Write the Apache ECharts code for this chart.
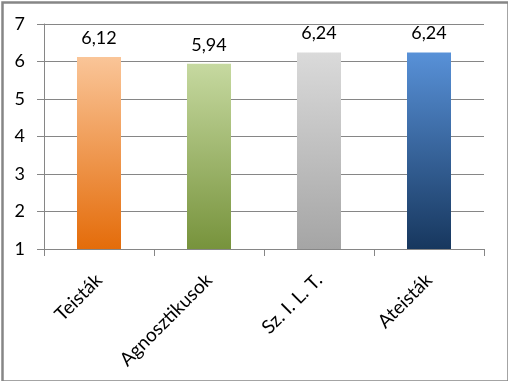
<!DOCTYPE html>
<html>
<head>
<meta charset="utf-8">
<script src="https://cdn.jsdelivr.net/npm/echarts@6/dist/echarts.min.js"></script>
<style>
html,body{margin:0;padding:0;background:#fff;}
#c{width:508px;height:381px;}
</style>
</head>
<body>
<div id="c"></div>
<script>
const categories = ['Teisták', 'Agnosztikusok', 'Sz. I. L. T.', 'Ateisták'];
const values = [6.12, 5.94, 6.24, 6.24];
const valueLabels = ['6,12', '5,94', '6,24', '6,24'];
const yTicks = [1, 2, 3, 4, 5, 6, 7];
const gradients = [
  ['#FAC598', '#E46C0A'],
  ['#C6D9A0', '#77933C'],
  ['#DADADA', '#A5A5A5'],
  ['#5891D8', '#17375E']
];

const font = 'Lato, "Open Sans", sans-serif';
const chart = echarts.init(document.getElementById('c'), null, {renderer: 'canvas'});
chart.setOption({
  animation: false,
  graphic: [{
    type: 'rect', left: 0, top: 0,
    shape: {x: 1, y: 1, width: 506, height: 379},
    style: {fill: 'none', stroke: '#868686', lineWidth: 2.5}
  }],
  grid: {left: 44, right: 24, top: 24, bottom: 132},
  xAxis: {
    type: 'category',
    data: categories,
    axisLine: {lineStyle: {color: '#868686', width: 1}},
    axisTick: {show: true, length: 7, lineStyle: {color: '#868686'}},
    axisLabel: {rotate: 45, margin: 28, color: '#000', fontSize: 19, fontFamily: font}
  },
  yAxis: {
    type: 'value',
    min: yTicks[0], max: yTicks[yTicks.length - 1], interval: 1,
    axisLine: {show: true, lineStyle: {color: '#868686', width: 1}},
    axisTick: {show: true, length: 7, lineStyle: {color: '#868686'}},
    splitLine: {lineStyle: {color: '#868686', width: 1}},
    axisLabel: {margin: 19, color: '#000', fontSize: 18, fontFamily: font}
  },
  series: [{
    type: 'bar',
    barWidth: '40%',
    data: values.map((v, i) => ({
      value: v,
      itemStyle: {
        color: new echarts.graphic.LinearGradient(0, 0, 0, 1, [
          {offset: 0, color: gradients[i][0]},
          {offset: 1, color: gradients[i][1]}
        ])
      }
    })),
    label: {
      show: true, position: 'top', distance: 10,
      color: '#000', fontSize: 18, fontFamily: font,
      formatter: p => valueLabels[p.dataIndex]
    }
  }]
});
</script>
</body>
</html>
